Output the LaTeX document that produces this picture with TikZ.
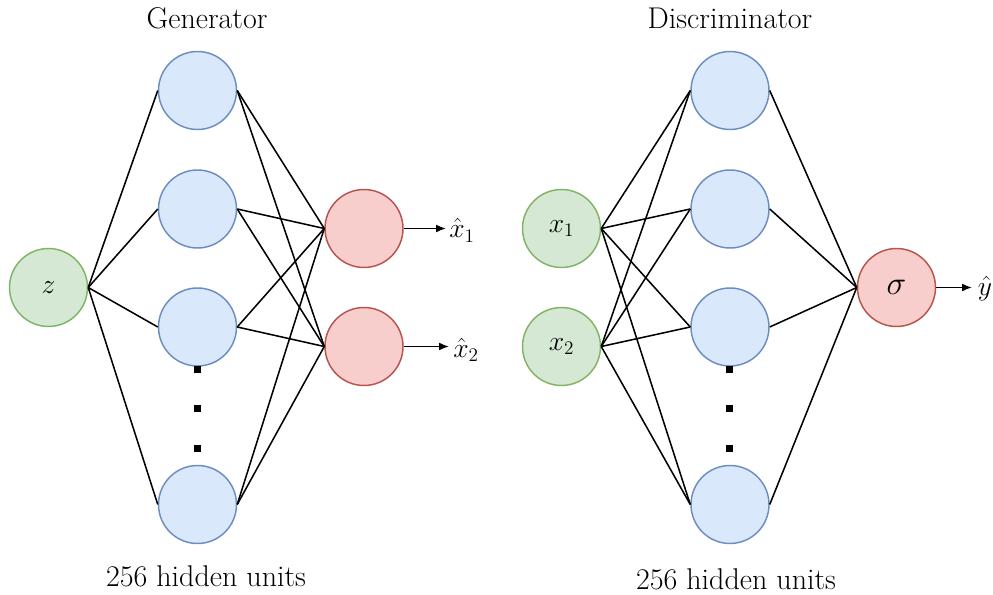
\documentclass[tikz,border=0pt]{standalone}
\usetikzlibrary{arrows.meta}
\definecolor{inFill}{HTML}{D5E8D4}
\definecolor{inLine}{HTML}{82B366}
\definecolor{hidFill}{HTML}{DAE8FC}
\definecolor{hidLine}{HTML}{6C8EBF}
\definecolor{outFill}{HTML}{F8CECC}
\definecolor{outLine}{HTML}{B85450}
\begin{document}
\begin{tikzpicture}[x=0.75pt,y=-0.75pt,
  every node/.style={font=\fontsize{22.5}{27}\selectfont},
  neuron/.style={circle,minimum size=58.5pt,inner sep=0pt,line width=1.1pt},
  innode/.style={neuron,fill=inFill,draw=inLine},
  hidnode/.style={neuron,fill=hidFill,draw=hidLine},
  outnode/.style={neuron,fill=outFill,draw=outLine},
  wire/.style={line width=1.15pt,black},
  outarrow/.style={wire,-{Latex[length=7.5pt,width=6pt]}},
  dotmark/.style={rectangle,fill=black,minimum size=5.25pt,inner sep=0pt},
  tag/.style={inner sep=0pt,anchor=base west},
]
\useasboundingbox (0,0) rectangle (993,595);

% ---------- Generator ----------
\node[innode] (z) at (48.5,287.5) {$z$};
\node[hidnode] (g1) at (197.5,90.5) {};
\node[hidnode] (g2) at (197.5,209) {};
\node[hidnode] (g3) at (197.5,327) {};
\node[hidnode] (g4) at (197.5,504.5) {};
\node[outnode] (o1) at (364,228.5) {};
\node[outnode] (o2) at (364,346.5) {};

\node[dotmark] (gd1) at (197.5,370) {};
\node[dotmark] (gd2) at (197.5,409) {};
\node[dotmark] (gd3) at (197.5,448) {};

\foreach \h in {g1,g2,g3,g4} {
  \draw[wire] (z.east) -- (\h.west);
  \draw[wire] (\h.east) -- (o1.west);
  \draw[wire] (\h.east) -- (o2.west);
}

\coordinate (o1tip) at (446,228.5);
\coordinate (o2tip) at (449,346.5);
\draw[outarrow] (o1.east) -- (o1tip);
\draw[outarrow] (o2.east) -- (o2tip);
\node[tag] (lx1) at (449,238) {$\hat{x}_1$};
\node[tag] (lx2) at (453,357.5) {$\hat{x}_2$};

\node (gtitle) at (207,18) {Generator};
\node (gunits) at (206,576) {256 hidden units};

% ---------- Discriminator ----------
\node[innode] (x1) at (561.5,228.5) {$x_1$};
\node[innode] (x2) at (561.5,346.5) {$x_2$};
\node[hidnode] (d1) at (730,90.5) {};
\node[hidnode] (d2) at (730,209) {};
\node[hidnode] (d3) at (730,327) {};
\node[hidnode] (d4) at (730,504.5) {};
\node[outnode,font=\fontsize{25.5}{30}\selectfont] (sg) at (896.5,287.5) {$\sigma$};

\node[dotmark] (dd1) at (729.5,370) {};
\node[dotmark] (dd2) at (729.5,409) {};
\node[dotmark] (dd3) at (729.5,448) {};

\foreach \h in {d1,d2,d3,d4} {
  \draw[wire] (x1.east) -- (\h.west);
  \draw[wire] (x2.east) -- (\h.west);
  \draw[wire] (\h.east) -- (sg.west);
}

\coordinate (ytip) at (972,287.5);
\draw[outarrow] (sg.east) -- (ytip);
\node[tag] (ly) at (977.5,296) {$\hat{y}$};

\node (dtitle) at (730,18) {Discriminator};
\node (dunits) at (736,579) {256 hidden units};
\end{tikzpicture}
\end{document}
